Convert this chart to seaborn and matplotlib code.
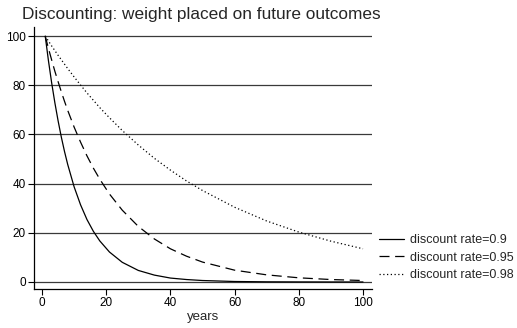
import numpy as np
import pandas as pd
import matplotlib
matplotlib.use("Agg")
import matplotlib.pyplot as plt
import seaborn as sns

# values (weight in %, by year)
years = [1, 2, 3, 4, 5, 6, 7, 8, 10, 12, 14, 16, 18, 21, 25, 30, 35, 40, 45, 50, 60, 70, 80, 90, 100]
rate_90 = [100, 90, 81, 72.9, 65.6, 59, 53.1, 47.8, 38.7, 31.4, 25.4, 20.6, 16.7, 12.2, 8.0, 4.7,
           2.8, 1.6, 1.0, 0.6, 0.2, 0.07, 0.03, 0.01, 0.0]
rate_95 = [100, 95, 90.3, 85.7, 81.5, 77.4, 73.5, 69.8, 63.0, 56.9, 51.3, 46.3, 41.8, 35.8, 29.2,
           22.6, 17.5, 13.5, 10.5, 8.1, 4.8, 2.9, 1.7, 1.0, 0.6]
rate_98 = [100, 98, 96, 94.1, 92.2, 90.4, 88.6, 86.8, 83.4, 80.1, 76.9, 73.9, 70.9, 66.8, 61.6,
           55.7, 50.3, 45.5, 41.1, 37.2, 30.4, 24.8, 20.3, 16.6, 13.5]
labels = ["discount rate=0.9", "discount rate=0.95", "discount rate=0.98"]

df = pd.concat([
    pd.DataFrame({"years": years, "weight": vals, "rate": lab})
    for vals, lab in zip([rate_90, rate_95, rate_98], labels)
])

sns.set_style("white")
plt.rcParams["font.family"] = ["Liberation Sans", "DejaVu Sans"]

dash_long = (8, 4.5)
dot_fine = (1, 2)

W, H = 517, 328
fig = plt.figure(figsize=(W / 100, H / 100), dpi=100)
ax = fig.add_axes([34 / W, 1 - 289 / H, (372 - 34) / W, (289 - 27) / H])

for y in range(0, 101, 20):
    ax.axhline(y, color="#3a3a3a", lw=0.9, zorder=0)

sns.lineplot(data=df, x="years", y="weight", style="rate", color="black", lw=0.9,
             dashes={labels[0]: "", labels[1]: dash_long, labels[2]: dot_fine},
             legend=False, ax=ax)

ax.set_xlim(-2.5, 102.8)
ax.set_ylim(-2.85, 103.7)
ax.set_xticks(range(0, 101, 20))
ax.set_yticks(range(0, 101, 20))
ax.tick_params(axis="both", direction="out", length=4, width=0.8, colors="black",
               labelsize=8.5, pad=2, left=True, bottom=True)
for side in ["top", "right"]:
    ax.spines[side].set_visible(False)
for side in ["left", "bottom"]:
    ax.spines[side].set_color("black")
    ax.spines[side].set_linewidth(0.9)
ax.set_xlabel("years", fontsize=9.5, labelpad=1)
ax.set_ylabel("")

fig.text(22 / W, 1 - 19 / H, "Discounting: weight placed on future outcomes",
         fontsize=12.4, va="baseline", ha="left")

handles = [plt.Line2D([], [], color="black", lw=0.9, linestyle=ls)
           for ls in ["-", (0, dash_long), (0, dot_fine)]]
fig.legend(handles, labels, loc="upper left", bbox_to_anchor=(379 / W, 1 - 234 / H),
           frameon=False, fontsize=9, handlelength=2.0, handletextpad=0.5,
           labelspacing=0.45, borderaxespad=0, borderpad=0)

fig.savefig("out.png", dpi=100)
